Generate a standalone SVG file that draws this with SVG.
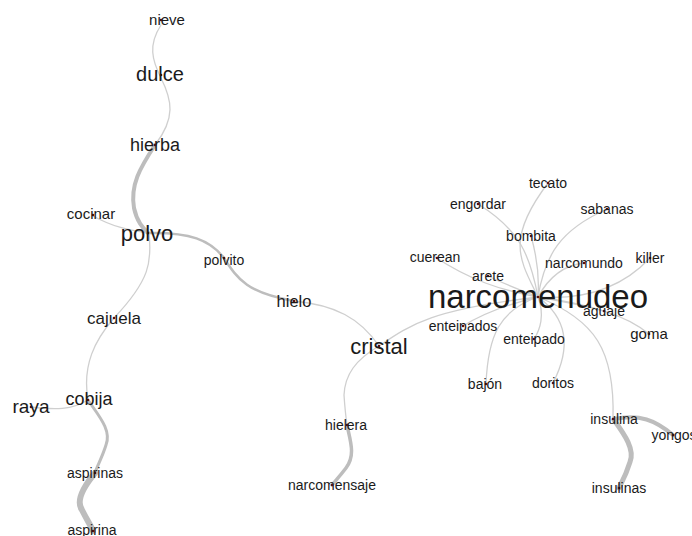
<svg xmlns="http://www.w3.org/2000/svg" width="692" height="536" viewBox="0 0 692 536">
<style>
.e{fill:none;stroke:#cfcfcf;stroke-width:1.3;stroke-linecap:round}
.t{fill:none;stroke:#bdbdbd;stroke-linecap:round}
text{font-family:"Liberation Sans",Arial,sans-serif;fill:#1a1a1a;text-anchor:middle;dominant-baseline:central}
.s{font-size:14px}
.d{fill:#5a1010}
</style>
<rect width="692" height="536" fill="#fff"/>
<g id="edges">
<path class="e" d="M161,25 C148,45 152,60 161,78 C172,100 176,118 155,145"/>
<path class="t" stroke-width="4" d="M155,145 C140,168 130,185 134,208 C137,222 143,228 148,233"/>
<path class="e" d="M148,233 C130,230 115,228 93,216"/>
<path class="t" stroke-width="2.5" d="M148,233 C190,232 210,240 224,258 C238,280 248,293 294,301"/>
<path class="e" stroke-width="2" d="M294,301 C335,305 360,318 379,346"/>
<path class="e" d="M149,233 C152,262 150,280 114,318 C95,340 82,365 88,400"/>
<path class="e" d="M88,400 C72,410 55,410 31,407"/>
<path class="t" stroke-width="3" d="M88,400 C98,415 112,430 106,445 C102,458 97,466 95,473"/>
<path class="t" stroke-width="6" d="M95,473 C85,485 75,500 82,510 C87,520 91,526 93,531"/>
<path class="e" stroke-width="1.8" d="M379,346 C355,360 345,375 344,395 C345,410 346,418 347,425"/>
<path class="t" stroke-width="3.5" d="M347,425 C350,440 356,455 346,468 C340,476 336,480 332,485"/>
<path class="e" d="M379,346 C410,325 430,310 538,297"/>
<path class="e" d="M538,297 C520,260 505,240 548,183"/>
<path class="e" d="M538,297 C530,255 520,230 478,204"/>
<path class="e" d="M538,297 C540,270 535,250 531,236"/>
<path class="e" d="M538,297 C545,255 560,230 607,209"/>
<path class="e" d="M538,297 C550,275 565,265 584,263"/>
<path class="e" d="M538,297 C580,300 620,290 650,258"/>
<path class="e" d="M538,297 C500,290 470,280 435,257"/>
<path class="e" d="M538,297 C520,290 500,282 488,276"/>
<path class="e" d="M538,297 C560,300 585,305 604,311"/>
<path class="e" d="M538,297 C580,305 620,310 649,334"/>
<path class="e" d="M538,297 C505,305 480,315 463,326"/>
<path class="e" d="M538,297 C545,315 540,330 534,339"/>
<path class="e" d="M538,297 C500,310 488,335 486,384"/>
<path class="e" d="M538,297 C570,320 570,350 553,383"/>
<path class="e" d="M538,297 C595,320 615,350 613,419"/>
<path class="t" stroke-width="4" d="M614,419 C640,414 655,420 673,435"/>
<path class="t" stroke-width="5" d="M614,420 C625,435 635,450 630,462 C626,475 622,482 619,488"/>
</g>
<g id="n-nieve"><circle class="d" cx="161" cy="20" r="1.3"/><text x="167" y="19" style="font-size:15px">nieve</text></g>
<g id="n-dulce"><circle class="d" cx="161" cy="75" r="1.3"/><text x="160" y="74" style="font-size:20px">dulce</text></g>
<g id="n-hierba"><circle class="d" cx="155" cy="145" r="1.3"/><text x="155" y="145" style="font-size:18px">hierba</text></g>
<g id="n-polvo"><circle class="d" cx="148" cy="233" r="1.3"/><text x="147" y="233" style="font-size:22px">polvo</text></g>
<g id="n-cocinar"><circle class="d" cx="93" cy="215" r="1.3"/><text x="91" y="213" style="font-size:15px">cocinar</text></g>
<g id="n-polvito"><circle class="d" cx="224" cy="258" r="1.3"/><text x="224" y="260" class="s">polvito</text></g>
<g id="n-hielo"><circle class="d" cx="294" cy="301" r="1.3"/><text x="294" y="301" style="font-size:16.5px">hielo</text></g>
<g id="n-cristal"><circle class="d" cx="379" cy="346" r="1.3"/><text x="379" y="346" style="font-size:22px">cristal</text></g>
<g id="n-hielera"><circle class="d" cx="347" cy="425" r="1.3"/><text x="346" y="425" class="s">hielera</text></g>
<g id="n-narcomensaje"><circle class="d" cx="332" cy="485" r="1.3"/><text x="332" y="485" class="s">narcomensaje</text></g>
<g id="n-cajuela"><circle class="d" cx="114" cy="318" r="1.3"/><text x="114" y="318" style="font-size:17px">cajuela</text></g>
<g id="n-cobija"><circle class="d" cx="88" cy="400" r="1.3"/><text x="89" y="399" style="font-size:18px">cobija</text></g>
<g id="n-raya"><circle class="d" cx="31" cy="407" r="1.3"/><text x="31" y="406" style="font-size:19px">raya</text></g>
<g id="n-aspirinas"><circle class="d" cx="95" cy="473" r="1.3"/><text x="95" y="473" class="s">aspirinas</text></g>
<g id="n-aspirina"><circle class="d" cx="93" cy="531" r="1.3"/><text x="92" y="530" class="s">aspirina</text></g>
<g id="n-narcomenudeo"><circle class="d" cx="538" cy="297" r="1.3"/><text x="538" y="296" style="font-size:33px">narcomenudeo</text></g>
<g id="n-tecato"><circle class="d" cx="548" cy="183" r="1.3"/><text x="548" y="183" class="s">tecato</text></g>
<g id="n-engordar"><circle class="d" cx="478" cy="204" r="1.3"/><text x="478" y="204" class="s">engordar</text></g>
<g id="n-sabanas"><circle class="d" cx="607" cy="209" r="1.3"/><text x="607" y="209" class="s">sabanas</text></g>
<g id="n-bombita"><circle class="d" cx="531" cy="236" r="1.3"/><text x="531" y="236" class="s">bombita</text></g>
<g id="n-cuerean"><circle class="d" cx="437" cy="258" r="1.3"/><text x="435" y="257" class="s">cuerean</text></g>
<g id="n-arete"><circle class="d" cx="488" cy="276" r="1.3"/><text x="488" y="276" class="s">arete</text></g>
<g id="n-narcomundo"><circle class="d" cx="584" cy="263" r="1.3"/><text x="584" y="263" class="s">narcomundo</text></g>
<g id="n-killer"><circle class="d" cx="650" cy="258" r="1.3"/><text x="650" y="258" class="s">killer</text></g>
<g id="n-aguaje"><circle class="d" cx="604" cy="311" r="1.3"/><text x="604" y="311" class="s">aguaje</text></g>
<g id="n-goma"><circle class="d" cx="649" cy="334" r="1.3"/><text x="649" y="333" style="font-size:15px">goma</text></g>
<g id="n-enteipados"><circle class="d" cx="463" cy="326" r="1.3"/><text x="463" y="326" class="s">enteipados</text></g>
<g id="n-enteipado"><circle class="d" cx="534" cy="339" r="1.3"/><text x="534" y="339" class="s">enteipado</text></g>
<g id="n-bajon"><circle class="d" cx="486" cy="384" r="1.3"/><text x="485" y="384" class="s">bajón</text></g>
<g id="n-doritos"><circle class="d" cx="553" cy="383" r="1.3"/><text x="553" y="383" class="s">doritos</text></g>
<g id="n-insulina"><circle class="d" cx="613" cy="419" r="1.3"/><text x="614" y="419" class="s">insulina</text></g>
<g id="n-yongos"><circle class="d" cx="673" cy="435" r="1.3"/><text x="674" y="435" class="s">yongos</text></g>
<g id="n-insulinas"><circle class="d" cx="619" cy="488" r="1.3"/><text x="619" y="488" class="s">insulinas</text></g>
</svg>
